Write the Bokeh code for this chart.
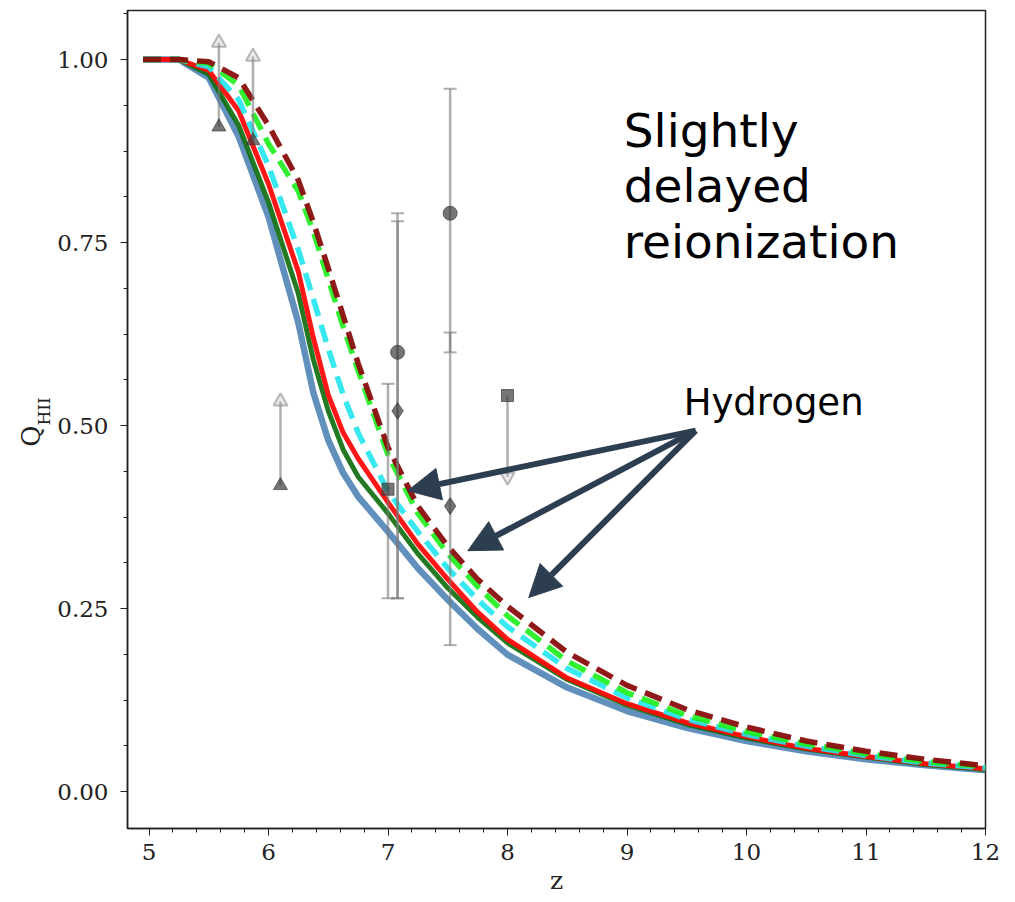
import numpy as np
from bokeh.plotting import figure
from bokeh.models import Arrow, NormalHead, Label, Range1d, FixedTicker, NumeralTickFormatter, LinearAxis
from bokeh.embed import file_html
from bokeh.resources import INLINE

# ---------------- data ----------------
z = [4.95, 5.25, 5.5, 5.75, 6.0, 6.25, 6.375, 6.5, 6.625, 6.75, 7.0, 7.25, 7.5, 7.75, 8.0,
     8.5, 9.0, 9.5, 10.0, 10.5, 11.0, 11.5, 12.0]
q_blue = [1.0, 1.0, 0.975, 0.895, 0.785, 0.64, 0.545, 0.48, 0.435, 0.403, 0.355, 0.305, 0.262, 0.222, 0.187,
          0.142, 0.110, 0.087, 0.069, 0.055, 0.044, 0.036, 0.029]
q_dkgreen = [1.0, 1.0, 0.98, 0.91, 0.805, 0.68, 0.59, 0.52, 0.467, 0.43, 0.38, 0.325, 0.278, 0.238, 0.203,
             0.153, 0.118, 0.092, 0.073, 0.058, 0.047, 0.037, 0.030]
q_red = [1.0, 1.0, 0.985, 0.93, 0.83, 0.71, 0.62, 0.542, 0.49, 0.455, 0.395, 0.338, 0.29, 0.245, 0.208,
         0.155, 0.120, 0.094, 0.075, 0.059, 0.048, 0.038, 0.031]
q_cyan = [1.0, 1.0, 0.99, 0.945, 0.855, 0.74, 0.673, 0.605, 0.542, 0.49, 0.41, 0.355, 0.305, 0.262, 0.225,
          0.168, 0.128, 0.099, 0.078, 0.062, 0.049, 0.039, 0.032]
q_lime = [1.0, 1.0, 0.995, 0.965, 0.885, 0.82, 0.765, 0.70, 0.635, 0.575, 0.46, 0.38, 0.325, 0.28, 0.24,
          0.178, 0.135, 0.104, 0.082, 0.065, 0.052, 0.041, 0.034]
q_maroon = [1.0, 1.0, 0.997, 0.975, 0.91, 0.835, 0.778, 0.715, 0.65, 0.585, 0.47, 0.39, 0.335, 0.29, 0.253,
            0.19, 0.145, 0.112, 0.088, 0.069, 0.055, 0.044, 0.035]

# observational constraints (two-sided error bars)
obs_z = [7.0, 7.08, 7.08, 7.52, 7.52]
obs_q = [0.413, 0.60, 0.52, 0.79, 0.39]
obs_lo = [0.264, 0.264, 0.264, 0.60, 0.20]
obs_hi = [0.557, 0.79, 0.779, 0.96, 0.627]
obs_marker = ["square", "circle", "diamond", "circle", "diamond"]
obs_size = [12, 14, 17, 14, 17]

# lower limits (arrow up)
lolim_z = [5.585, 5.87, 6.10]
lolim_q = [0.908, 0.889, 0.418]
lolim_tip = [1.023, 1.004, 0.533]

# upper limits (arrow down)
uplim_z = [8.0]
uplim_q = [0.541]
uplim_tip = [0.43]

# annotation arrows ("Hydrogen")
arrow_start = (9.575, 0.493)
arrow_ends_z = [7.166, 7.668, 8.178]
arrow_ends_q = [0.411, 0.329, 0.265]

x_ticks = [5, 6, 7, 8, 9, 10, 11, 12]
y_ticks = [0.0, 0.25, 0.5, 0.75, 1.0]

# ---------------- figure ----------------
p = figure(width=1015, height=902, x_range=Range1d(4.82, 12.0), y_range=Range1d(-0.0505, 1.067),
           output_backend="svg", toolbar_location=None,
           min_border_left=127, min_border_right=30, min_border_top=10, min_border_bottom=74)
p.xgrid.visible = False
p.ygrid.visible = False
p.outline_line_color = "#222222"
p.outline_line_width = 1.5
p.background_fill_color = "white"
p.border_fill_color = "white"

serif = "DejaVu Serif"
xax = p.below[0]
yax = p.left[0]
xax.ticker = FixedTicker(ticks=x_ticks, minor_ticks=list(np.arange(4.8, 12.001, 0.2)))
yax.ticker = FixedTicker(ticks=y_ticks, minor_ticks=list(np.arange(-0.0625, 1.07, 0.0625)))
yax.formatter = NumeralTickFormatter(format="0.00")
for ax in (xax, yax):
    ax.major_tick_in = 0
    ax.major_tick_out = 7
    ax.minor_tick_in = 0
    ax.minor_tick_out = 4
    ax.axis_line_color = "#222222"
    ax.axis_line_width = 1.5
    ax.major_tick_line_color = "#222222"
    ax.minor_tick_line_color = "#222222"
    ax.major_label_text_font = serif
    ax.major_label_text_font_size = "23px"
    ax.major_label_text_color = "#222222"
xax.major_label_standoff = 8
yax.major_label_standoff = 12
xax.axis_label = "z"
xax.axis_label_text_font = serif
xax.axis_label_text_font_style = "normal"
xax.axis_label_text_font_size = "25px"
xax.axis_label_text_color = "#222222"
xax.axis_label_standoff = 3

# y label: Q with subscript HII (subscript on the inner axis, Q on an outer label-only axis)
yax.axis_label = "\u00a0\u00a0\u00a0HII"
yax.axis_label_text_font = serif
yax.axis_label_text_font_style = "normal"
yax.axis_label_text_font_size = "17px"
yax.axis_label_text_color = "#222222"
yax.axis_label_standoff = 0

qax = LinearAxis(axis_label="Q\u00a0\u00a0\u00a0\u00a0", ticker=FixedTicker(ticks=[]),
                 major_label_text_font_size="0px", major_tick_line_color=None,
                 minor_tick_line_color=None, axis_line_color=None,
                 axis_label_text_font=serif, axis_label_text_font_style="normal",
                 axis_label_text_font_size="26px", axis_label_text_color="#222222",
                 axis_label_standoff=-14)
p.add_layout(qax, "left")

# ---------------- model curves ----------------
p.line(z, q_blue, line_color="#4f84b4", line_width=6.5, line_alpha=0.9)
p.line(z, q_dkgreen, line_color="#0b6b0b", line_width=5, line_alpha=0.9)
p.line(z, q_red, line_color="#ff0a0a", line_width=5, line_alpha=0.95)
p.line(z, q_cyan, line_color="#22e6ee", line_width=5.5, line_dash="18 9", line_alpha=0.9)
p.line(z, q_lime, line_color="#1aee1a", line_width=5.5, line_dash="18 9", line_alpha=0.9)
p.line(z, q_maroon, line_color="#8a0d0d", line_width=5.5, line_dash="18 9", line_alpha=0.95)

# ---------------- observations ----------------
grey_line = "#7a7a7a"
p.segment(x0=obs_z, y0=obs_lo, x1=obs_z, y1=obs_hi, line_color=grey_line, line_width=2.5, line_alpha=0.6)
p.scatter(obs_z, obs_lo, marker="dash", size=13, line_color=grey_line, line_width=2, line_alpha=0.6)
p.scatter(obs_z, obs_hi, marker="dash", size=13, line_color=grey_line, line_width=2, line_alpha=0.6)
p.scatter(x=obs_z, y=obs_q, marker=obs_marker, size=obs_size, fill_color="#3c3c3c", fill_alpha=0.7,
          line_color="#3c3c3c", line_alpha=0.7)

p.segment(x0=lolim_z, y0=lolim_q, x1=lolim_z, y1=lolim_tip, line_color=grey_line, line_width=2.5, line_alpha=0.6)
p.scatter(lolim_z, lolim_tip, marker="triangle", size=14, fill_color="#bbbbbb", fill_alpha=0.3,
          line_color="#8a8a8a", line_width=2, line_alpha=0.6)
p.scatter(lolim_z, lolim_q, marker="triangle", size=14, fill_color="#3c3c3c", fill_alpha=0.7,
          line_color="#3c3c3c", line_alpha=0.7)

p.segment(x0=uplim_z, y0=uplim_q, x1=uplim_z, y1=uplim_tip, line_color=grey_line, line_width=2.5, line_alpha=0.6)
p.scatter(uplim_z, uplim_tip, marker="inverted_triangle", size=14, fill_color="#bbbbbb", fill_alpha=0.3,
          line_color="#8a8a8a", line_width=2, line_alpha=0.6)
p.scatter(uplim_z, uplim_q, marker="square", size=12, fill_color="#3c3c3c", fill_alpha=0.7,
          line_color="#3c3c3c", line_alpha=0.7)

# ---------------- annotations ----------------
navy = "#2c3e50"
for xe, ye in zip(arrow_ends_z, arrow_ends_q):
    p.add_layout(Arrow(x_start=arrow_start[0], y_start=arrow_start[1], x_end=xe, y_end=ye,
                       line_color=navy, line_width=6,
                       end=NormalHead(size=32, fill_color=navy, line_color=navy, line_width=1)))

for txt, yy in zip(["Slightly", "delayed", "reionization"], [0.903, 0.828, 0.751]):
    p.add_layout(Label(x=8.973, y=yy, text=txt, text_font="DejaVu Sans", text_font_size="47px",
                       text_color="black", text_baseline="alphabetic", text_align="left"))
p.add_layout(Label(x=9.474, y=0.532, text="Hydrogen", text_font="DejaVu Sans", text_font_size="37px",
                   text_color="black", text_baseline="alphabetic", text_align="left"))

open("out.html", "w").write(file_html(p, INLINE))
